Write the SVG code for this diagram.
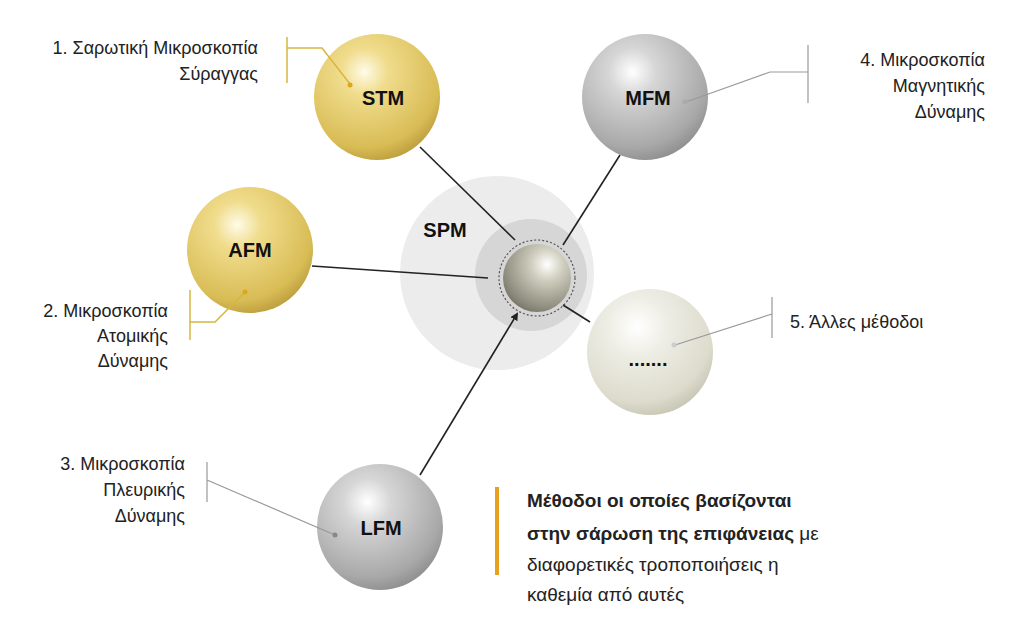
<svg xmlns="http://www.w3.org/2000/svg" width="1023" height="636" viewBox="0 0 1023 636">
<defs>
<radialGradient id="gold" cx="0.4" cy="0.3" r="0.75"><stop offset="0" stop-color="#fffbe8"/><stop offset="0.25" stop-color="#f0dc8c"/><stop offset="0.8" stop-color="#d8bc55"/><stop offset="1" stop-color="#b89a3a"/></radialGradient>
<radialGradient id="gray" cx="0.4" cy="0.3" r="0.75"><stop offset="0" stop-color="#ffffff"/><stop offset="0.25" stop-color="#d6d6d6"/><stop offset="0.8" stop-color="#a8a8a8"/><stop offset="1" stop-color="#8a8a8a"/></radialGradient>
<radialGradient id="pale" cx="0.4" cy="0.3" r="0.75"><stop offset="0" stop-color="#ffffff"/><stop offset="0.3" stop-color="#efeee6"/><stop offset="0.8" stop-color="#dcdbcc"/><stop offset="1" stop-color="#c4c2b0"/></radialGradient>
<radialGradient id="core" cx="0.65" cy="0.3" r="0.8"><stop offset="0" stop-color="#ffffff"/><stop offset="0.3" stop-color="#cfcdbd"/><stop offset="0.8" stop-color="#8f8d7d"/><stop offset="1" stop-color="#6f6d60"/></radialGradient>
<marker id="arr" markerWidth="8" markerHeight="8" refX="6" refY="4" orient="auto" markerUnits="userSpaceOnUse"><path d="M0,0 L8,4 L0,8z" fill="#222"/></marker>
<style>
.lbl{font-family:"Liberation Sans",Arial,sans-serif;font-size:18px;fill:#222}
.nd{font-family:"Liberation Sans",Arial,sans-serif;font-size:20px;font-weight:bold;fill:#111;text-anchor:middle}
.g{stroke:#d8b63e;stroke-width:1.5;fill:none}
.s{stroke:#999;stroke-width:1.2;fill:none}
.c{stroke:#222;stroke-width:1.6;fill:none}
.t{font-family:"Liberation Sans",Arial,sans-serif;font-size:19px;fill:#222}
</style>
</defs>
<rect width="1023" height="636" fill="#fff"/>
<g id="spm">
<circle cx="497" cy="273" r="97" fill="#ececec"/>
<circle cx="531" cy="275" r="56" fill="#d6d6d6"/>
<circle cx="537" cy="278" r="38" fill="none" stroke="#555" stroke-width="1.2" stroke-dasharray="2,2"/>
<circle cx="537" cy="278" r="34" fill="url(#core)"/>
<text class="nd" x="445" y="237">SPM</text>
</g>
<g id="connectors">
<line class="c" x1="420" y1="147" x2="515" y2="240"/>
<line class="c" x1="620" y1="155" x2="563" y2="245"/>
<line class="c" x1="312" y1="266" x2="488" y2="278"/>
<line class="c" x1="563" y1="305" x2="590" y2="322"/>
<line class="c" x1="420" y1="475" x2="517" y2="314" marker-end="url(#arr)"/>
</g>
<g id="stm">
<circle cx="377" cy="97" r="63" fill="url(#gold)"/>
<text class="nd" x="383" y="105">STM</text>
<path class="g" d="M287,37 V83 M287,48 H322 L350,84"/><circle cx="350" cy="85" r="2.5" fill="#d8a820"/>
<text class="lbl" x="258" y="54" text-anchor="end">1. Σαρωτική Μικροσκοπία</text>
<text class="lbl" x="258" y="80" text-anchor="end">Σύραγγας</text>
</g>
<g id="afm">
<circle cx="250" cy="250" r="63" fill="url(#gold)"/>
<text class="nd" x="250" y="257">AFM</text>
<path class="g" d="M190,290 V340 M190,322 H215 L245,292"/><circle cx="245" cy="292" r="2.5" fill="#d8a820"/>
<text class="lbl" x="168" y="317" text-anchor="end">2. Μικροσκοπία</text>
<text class="lbl" x="168" y="342" text-anchor="end">Ατομικής</text>
<text class="lbl" x="168" y="367" text-anchor="end">Δύναμης</text>
</g>
<g id="mfm">
<circle cx="645" cy="97" r="63" fill="url(#gray)"/>
<text class="nd" x="648" y="105">MFM</text>
<path class="s" d="M808,45 V103 M808,72 H770 L686,102"/><circle cx="685" cy="102" r="2.5" fill="#aaa"/>
<text class="lbl" x="985" y="66" text-anchor="end">4. Μικροσκοπία</text>
<text class="lbl" x="985" y="92" text-anchor="end">Μαγνητικής</text>
<text class="lbl" x="985" y="118" text-anchor="end">Δύναμης</text>
</g>
<g id="other">
<circle cx="650" cy="352" r="63" fill="url(#pale)"/>
<text class="nd" x="648" y="366">.......</text>
<path class="s" stroke="#ccc" d="M772,297 V338 M772,314 L675,345"/><circle cx="674" cy="345" r="2.5" fill="#ccc"/>
<text class="lbl" x="790" y="328">5. Άλλες μέθοδοι</text>
</g>
<g id="lfm">
<circle cx="380" cy="527" r="63" fill="url(#gray)"/>
<text class="nd" x="381" y="535">LFM</text>
<path class="s" d="M207,462 V502 M207,480 L335,535"/><circle cx="335" cy="535" r="2.5" fill="#888"/>
<text class="lbl" x="185" y="470" text-anchor="end">3.  Μικροσκοπία</text>
<text class="lbl" x="185" y="496" text-anchor="end">Πλευρικής</text>
<text class="lbl" x="185" y="522" text-anchor="end">Δύναμης</text>
</g>
<g id="note">
<rect x="495" y="487" width="4" height="88" fill="#e8a020"/>
<text class="t" x="527" y="507" font-weight="bold">Μέθοδοι οι οποίες βασίζονται</text>
<text class="t" x="527" y="540"><tspan font-weight="bold">στην σάρωση της επιφάνειας</tspan> με</text>
<text class="t" x="527" y="571">διαφορετικές τροποποιήσεις η</text>
<text class="t" x="527" y="601">καθεμία από αυτές</text>
</g>
</svg>
